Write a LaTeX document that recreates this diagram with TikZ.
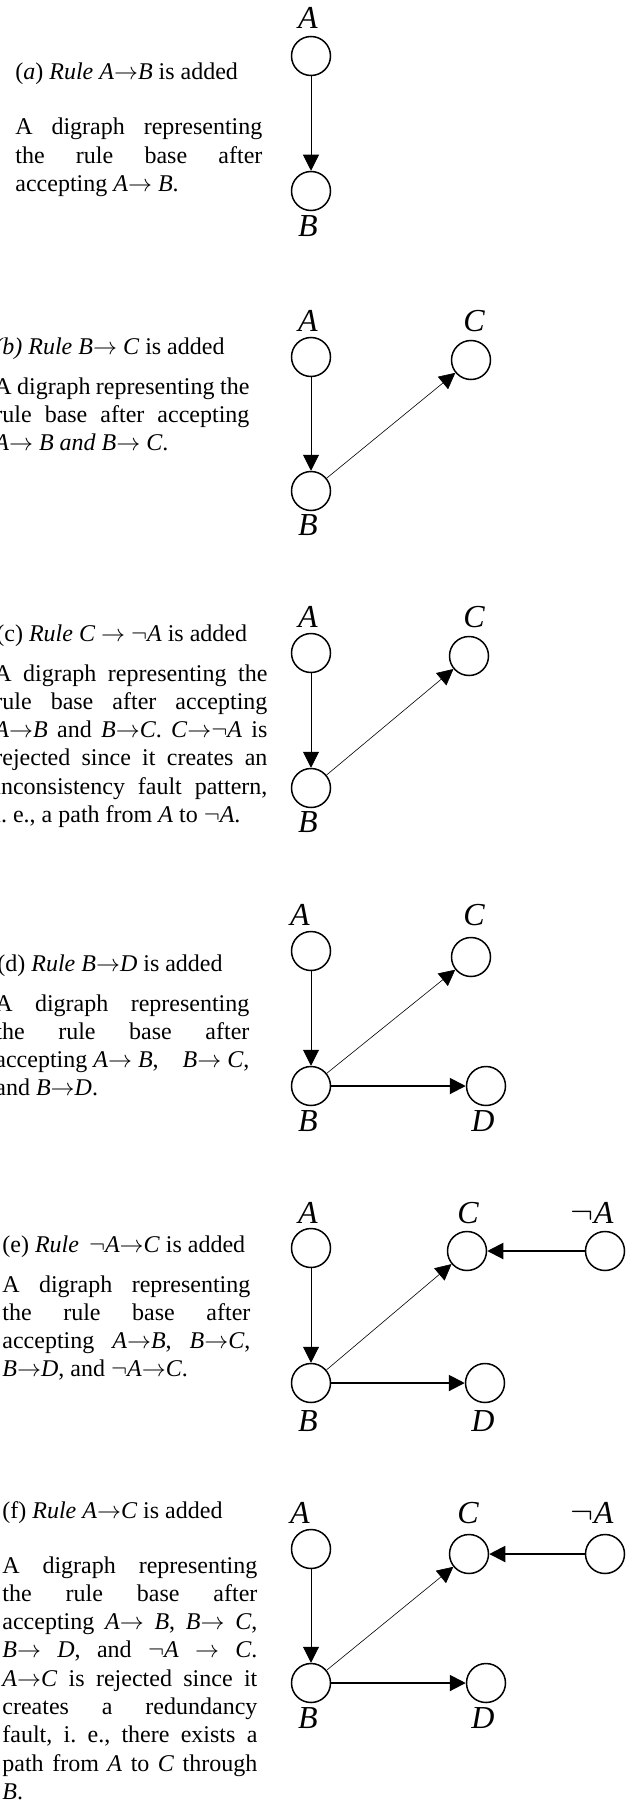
\documentclass[tikz,border=0pt]{standalone}
\usepackage{fontspec}
\setmainfont{Liberation Serif}
\usetikzlibrary{arrows.meta}
\newcommand{\rarr}{\ensuremath{\rightarrow}}
\newcommand{\lneg}{\ensuremath{\neg}}
\frenchspacing

\begin{document}
\begin{tikzpicture}[x=0.5pt,y=-0.5pt,
  v/.style={circle,draw,line width=0.75pt,minimum size=19.5pt,inner sep=0pt},
  lab/.style={font=\fontsize{16}{16}\selectfont\itshape,inner sep=0pt,anchor=base},
  hd/.style={font=\fontsize{12}{14}\selectfont,inner sep=0pt,anchor=base west},
  txt/.style={font=\fontsize{12}{14.15}\selectfont,align=justify,inner sep=0pt,anchor=base west},
  arr/.style={-{Triangle[length=8pt,width=8pt]},line width=0.5pt},
  arrf/.style={arr,line width=0.3pt},
  arrb/.style={arr,line width=1pt}]
\useasboundingbox (0,0) rectangle (633,1803);

% (a)
\node[hd] (ha) at (15,80) {(\textit{a}) \textit{Rule A\rarr B} is added};
\node[txt,text width=123.5pt] (ta) at (15,135)
  {A digraph representing\linebreak the rule base after\linebreak accepting \textit{A}\rarr\ \textit{B}.};
\node[v] (aA) at (311,56) {};
\node[v] (aB) at (311,191) {};
\node[lab] (laA) at (308,29) {A};
\node[lab] (laB) at (308,237) {B};
\draw[arr] (aA) -- (aB);

% (b)
\node[hd] (hb) at (-6,354) {\textit{(b) Rule B\rarr\ C} is added};
\node[txt,text width=127.5pt] (tb) at (-6,394)
  {A digraph representing the\linebreak rule base after accepting\linebreak \textit{A\rarr\ B and B\rarr\ C}.};
\node[v] (bA) at (311,357) {};
\node[v] (bC) at (471,360) {};
\node[v] (bB) at (311,491) {};
\node[lab] (lbA) at (308,331) {A};
\node[lab] (lbC) at (474,331) {C};
\node[lab] (lbB) at (308,535) {B};
\draw[arr] (bA) -- (bB);
\draw[arrf] (bB) -- (bC);

% (c)
\node[hd] (hc) at (-4,641) {(c) \textit{Rule C \rarr\ \lneg A} is added};
\node[txt,text width=136.5pt] (tc) at (-6,681)
  {A digraph representing the\linebreak rule base after accepting\linebreak
   \textit{A}\rarr\textit{B} and \textit{B}\rarr\textit{C}. \textit{C}\rarr\lneg\textit{A} is\linebreak
   rejected since it creates an\linebreak inconsistency fault pattern,\linebreak
   i. e., a path from \textit{A} to \lneg\textit{A}.};
\node[v] (cA) at (311,653) {};
\node[v] (cC) at (469,656) {};
\node[v] (cB) at (311,788) {};
\node[lab] (lcA) at (308,627) {A};
\node[lab] (lcC) at (474,627) {C};
\node[lab] (lcB) at (308,832) {B};
\draw[arr] (cA) -- (cB);
\draw[arrf] (cB) -- (cC);

% (d)
\node[hd] (hd) at (-3,971) {(d) \textit{Rule B\rarr D} is added};
\node[txt,text width=127pt] (td) at (-5,1011)
  {A digraph representing\linebreak the rule base after\linebreak
   accepting \textit{A}\rarr\ \textit{B},\quad \textit{B}\rarr\ \textit{C},\linebreak and \textit{B}\rarr\textit{D}.};
\node[v] (dA) at (311,951) {};
\node[v] (dC) at (471,957) {};
\node[v] (dB) at (311,1086) {};
\node[v] (dD) at (486,1086) {};
\node[lab] (ldA) at (300,925) {A};
\node[lab] (ldC) at (474,925) {C};
\node[lab] (ldB) at (308,1131) {B};
\node[lab] (ldD) at (483,1131) {D};
\draw[arr] (dA) -- (dB);
\draw[arrf] (dB) -- (dC);
\draw[arrb] (dB) -- (dD);

% (e)
\node[hd] (he) at (2,1252) {(e) \textit{Rule \,\lneg A\rarr C} is added};
\node[txt,text width=124pt] (te) at (2,1292)
  {A digraph representing\linebreak the rule base after\linebreak
   accepting \ \textit{A}\rarr\textit{B}, \ \textit{B}\rarr\textit{C},\linebreak
   \textit{B}\rarr\textit{D}, and \lneg\textit{A}\rarr\textit{C}.};
\node[v] (eA) at (311,1248) {};
\node[v] (eC) at (467,1251) {};
\node[v] (eN) at (605,1251) {};
\node[v] (eB) at (311,1383) {};
\node[v] (eD) at (485,1383) {};
\node[lab] (leA) at (308,1223) {A};
\node[lab] (leC) at (468,1223) {C};
\node[lab] (leN) at (592,1223) {\lneg A};
\node[lab] (leB) at (308,1431) {B};
\node[lab] (leD) at (483,1431) {D};
\draw[arr] (eA) -- (eB);
\draw[arrf] (eB) -- (eC);
\draw[arrb] (eB) -- (eD);
\draw[arrb] (eN) -- (eC);

% (f)
\node[hd] (hf) at (2,1518) {(f) \textit{Rule A\rarr C} is added};
\node[txt,text width=127.5pt] (tf) at (2,1573)
  {A digraph representing\linebreak the rule base after\linebreak
   accepting \textit{A}\rarr\ \textit{B}, \textit{B}\rarr\ \textit{C},\linebreak
   \textit{B}\rarr\ \textit{D}, and \lneg\textit{A} \rarr\ \textit{C}.\linebreak
   \textit{A}\rarr\textit{C} is rejected since it\linebreak creates a redundancy\linebreak
   fault, i. e., there exists a\linebreak path from \textit{A} to \textit{C} through\linebreak
   \textit{B}.};
\node[v] (fA) at (311,1549) {};
\node[v] (fC) at (469,1554) {};
\node[v] (fN) at (605,1554) {};
\node[v] (fB) at (311,1683) {};
\node[v] (fD) at (486,1683) {};
\node[lab] (lfA) at (300,1523) {A};
\node[lab] (lfC) at (468,1523) {C};
\node[lab] (lfN) at (592,1523) {\lneg A};
\node[lab] (lfB) at (308,1728) {B};
\node[lab] (lfD) at (483,1728) {D};
\draw[arr] (fA) -- (fB);
\draw[arrf] (fB) -- (fC);
\draw[arrb] (fB) -- (fD);
\draw[arrb] (fN) -- (fC);
\end{tikzpicture}
\end{document}
